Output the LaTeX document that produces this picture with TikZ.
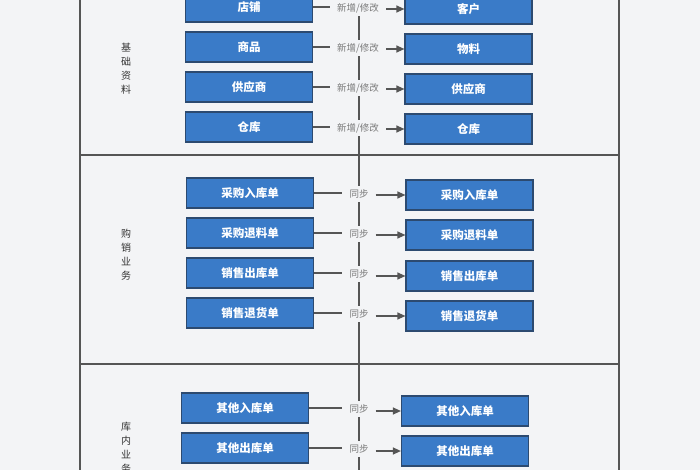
\documentclass[tikz,border=0pt]{standalone}
\usepackage{fontspec}
\setmainfont{Noto Sans CJK SC}
\usetikzlibrary{arrows.meta}
\definecolor{bg}{HTML}{F3F4F6}
\definecolor{boxfill}{HTML}{3A7BC8}
\definecolor{boxline}{HTML}{2C4A70}
\definecolor{framec}{HTML}{555555}
\definecolor{linkc}{HTML}{555555}
\definecolor{lbl}{HTML}{7A7A7A}
\definecolor{sect}{HTML}{333333}
\tikzset{
  bluebox/.style={draw=boxline, fill=boxfill, line width=1.2pt, minimum width=127pt, minimum height=30pt, inner sep=0pt, text=white, font=\fontsize{11.5}{13}\selectfont\bfseries},
  synclbl/.style={fill=bg, text=lbl, inner xsep=7pt, inner ysep=3.5pt, font=\fontsize{9.5}{11}\selectfont},
  sectlbl/.style={text=sect, align=center, font=\fontsize{10}{14}\selectfont},
  link/.style={draw=linkc, line width=1.2pt},
  arr/.style={link, -{Triangle[length=8pt,width=7pt]}},
  framel/.style={draw=framec, line width=1.4pt},
}
\begin{document}
\begin{tikzpicture}[x=1pt,y=-1pt]
\useasboundingbox (0,0) rectangle (700,470);
\fill[bg] (0,0) rectangle (700,470);
\clip (0,0) rectangle (700,470);
% frame
\draw[framel] (80,-5) -- (80,475);
\draw[framel] (619,-5) -- (619,475);
\draw[framel] (80,155) -- (619,155);
\draw[framel] (80,364) -- (619,364);
\draw[framel, line width=1.2pt] (359,-5) -- (359,475);
% section labels
\node[sectlbl] (s1) at (126,69) {基\\础\\资\\料};
\node[sectlbl] (s2) at (126,255) {购\\销\\业\\务};
\node[sectlbl] (s3) at (126,448) {库\\内\\业\\务};
% top section
\node[bluebox] (L1) at (249,7) {店铺};
\node[bluebox] (L2) at (249,47) {商品};
\node[bluebox] (L3) at (249,87) {供应商};
\node[bluebox] (L4) at (249,127) {仓库};
\node[bluebox] (R1) at (468.5,9) {客户};
\node[bluebox] (R2) at (468.5,49) {物料};
\node[bluebox] (R3) at (468.5,89) {供应商};
\node[bluebox] (R4) at (468.5,129) {仓库};
\node[synclbl] (T1) at (358,8) {新增/修改};
\node[synclbl] (T2) at (358,48) {新增/修改};
\node[synclbl] (T3) at (358,88) {新增/修改};
\node[synclbl] (T4) at (358,128) {新增/修改};
% middle section
\node[bluebox] (M1) at (250,193) {采购入库单};
\node[bluebox] (M2) at (250,233) {采购退料单};
\node[bluebox] (M3) at (250,273) {销售出库单};
\node[bluebox] (M4) at (250,313) {销售退货单};
\node[bluebox] (N1) at (469.5,195) {采购入库单};
\node[bluebox] (N2) at (469.5,235) {采购退料单};
\node[bluebox] (N3) at (469.5,276) {销售出库单};
\node[bluebox] (N4) at (469.5,316) {销售退货单};
\node[synclbl] (U1) at (359,194) {同步};
\node[synclbl] (U2) at (359,234) {同步};
\node[synclbl] (U3) at (359,274) {同步};
\node[synclbl] (U4) at (359,314) {同步};
% bottom section
\node[bluebox] (B1) at (245,408) {其他入库单};
\node[bluebox] (B2) at (245,448) {其他出库单};
\node[bluebox] (C1) at (465,411) {其他入库单};
\node[bluebox] (C2) at (465,451) {其他出库单};
\node[synclbl] (V1) at (359,409) {同步};
\node[synclbl] (V2) at (359,449) {同步};
% connectors
\foreach \a/\t/\b in {L1/T1/R1, L2/T2/R2, L3/T3/R3, L4/T4/R4, M1/U1/N1, M2/U2/N2, M3/U3/N3, M4/U4/N4, B1/V1/C1, B2/V2/C2} {
  \draw[link] (\a.east) -- (\a.east -| \t.west);
  \draw[arr] (\b.west -| \t.east) -- (\b.west);
}
\end{tikzpicture}
\end{document}
